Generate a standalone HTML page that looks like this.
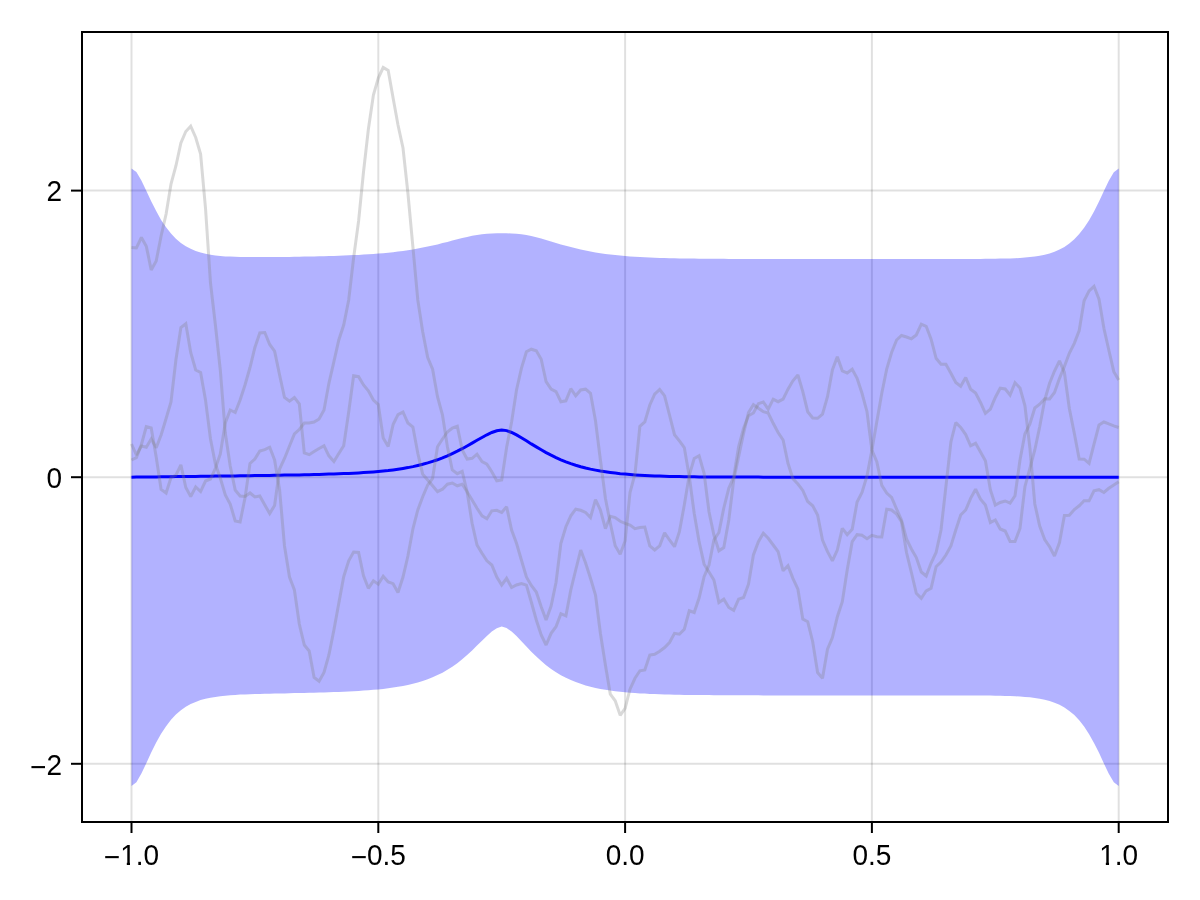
<!DOCTYPE html>
<html lang="en"><head><meta charset="utf-8"><title>Posterior band plot</title>
<style>html,body{margin:0;padding:0;background:#fff;}body{width:1200px;height:900px;overflow:hidden;}svg{display:block;}text{font-family:"Liberation Sans","DejaVu Sans",sans-serif;font-size:28px;fill:#000;}</style></head><body>
<svg width="1200" height="900" viewBox="0 0 1200 900">
<rect x="0" y="0" width="1200" height="900" fill="#ffffff"/>
<g stroke="#000" stroke-opacity="0.12" stroke-width="2" fill="none">
<line x1="131.5" y1="32" x2="131.5" y2="822"/>
<line x1="378.3" y1="32" x2="378.3" y2="822"/>
<line x1="625.1" y1="32" x2="625.1" y2="822"/>
<line x1="871.9" y1="32" x2="871.9" y2="822"/>
<line x1="1118.7" y1="32" x2="1118.7" y2="822"/>
<line x1="82" y1="190.6" x2="1168" y2="190.6"/>
<line x1="82" y1="477.2" x2="1168" y2="477.2"/>
<line x1="82" y1="763.8" x2="1168" y2="763.8"/>
</g>
<polygon points="131.5,168.4 136.4,172.1 141.4,180.5 146.3,190.8 151.2,201.3 156.2,211.1 161.1,219.9 166.1,227.3 171.0,233.6 175.9,238.7 180.9,242.9 185.8,246.2 190.7,248.8 195.7,250.9 200.6,252.5 205.5,253.8 210.5,254.7 215.4,255.4 220.3,256.0 225.3,256.4 230.2,256.6 235.2,256.8 240.1,257.0 245.0,257.1 250.0,257.1 254.9,257.1 259.8,257.1 264.8,257.1 269.7,257.1 274.6,257.0 279.6,257.0 284.5,256.9 289.5,256.9 294.4,256.8 299.3,256.7 304.3,256.6 309.2,256.5 314.1,256.4 319.1,256.3 324.0,256.2 328.9,256.0 333.9,255.9 338.8,255.7 343.7,255.5 348.7,255.3 353.6,255.1 358.6,254.9 363.5,254.6 368.4,254.3 373.4,254.0 378.3,253.6 383.2,253.2 388.2,252.7 393.1,252.2 398.0,251.6 403.0,250.9 407.9,250.2 412.9,249.4 417.8,248.6 422.7,247.6 427.7,246.6 432.6,245.5 437.5,244.4 442.5,243.1 447.4,241.9 452.3,240.6 457.3,239.3 462.2,238.1 467.1,236.9 472.1,235.8 477.0,235.0 482.0,234.3 486.9,233.8 491.8,233.5 496.8,233.3 501.7,233.3 506.6,233.3 511.6,233.5 516.5,233.8 521.4,234.3 526.4,235.1 531.3,236.1 536.3,237.3 541.2,238.6 546.1,240.0 551.1,241.5 556.0,242.9 560.9,244.4 565.9,245.8 570.8,247.1 575.7,248.3 580.7,249.5 585.6,250.5 590.5,251.5 595.5,252.4 600.4,253.2 605.4,253.9 610.3,254.5 615.2,255.1 620.2,255.6 625.1,256.0 630.0,256.4 635.0,256.7 639.9,257.0 644.8,257.3 649.8,257.5 654.7,257.7 659.7,257.9 664.6,258.0 669.5,258.2 674.5,258.3 679.4,258.4 684.3,258.5 689.3,258.5 694.2,258.6 699.1,258.7 704.1,258.7 709.0,258.7 713.9,258.8 718.9,258.8 723.8,258.8 728.8,258.9 733.7,258.9 738.6,258.9 743.6,258.9 748.5,258.9 753.4,258.9 758.4,258.9 763.3,259.0 768.2,259.0 773.2,259.0 778.1,259.0 783.1,259.0 788.0,259.0 792.9,259.0 797.9,259.0 802.8,259.0 807.7,259.0 812.7,259.0 817.6,259.0 822.5,259.0 827.5,259.0 832.4,259.0 837.3,259.0 842.3,259.0 847.2,259.0 852.2,259.0 857.1,259.0 862.0,259.0 867.0,259.0 871.9,259.0 876.8,259.0 881.8,259.0 886.7,259.0 891.6,259.0 896.6,259.0 901.5,259.0 906.5,259.0 911.4,259.0 916.3,259.0 921.3,259.0 926.2,259.0 931.1,259.0 936.1,259.0 941.0,259.0 945.9,259.0 950.9,259.0 955.8,259.0 960.7,259.0 965.7,259.0 970.6,258.9 975.6,258.9 980.5,258.9 985.4,258.8 990.4,258.8 995.3,258.7 1000.2,258.6 1005.2,258.5 1010.1,258.4 1015.0,258.2 1020.0,257.9 1024.9,257.5 1029.9,257.1 1034.8,256.5 1039.7,255.7 1044.7,254.7 1049.6,253.4 1054.5,251.7 1059.5,249.6 1064.4,246.9 1069.3,243.5 1074.3,239.3 1079.2,234.1 1084.1,227.8 1089.1,220.2 1094.0,211.5 1099.0,201.6 1103.9,191.0 1108.8,180.7 1113.8,172.2 1118.7,168.4 1118.7,786.0 1113.8,782.2 1108.8,773.7 1103.9,763.4 1099.0,752.8 1094.0,742.9 1089.1,734.2 1084.1,726.6 1079.2,720.3 1074.3,715.1 1069.3,710.9 1064.4,707.5 1059.5,704.8 1054.5,702.7 1049.6,701.0 1044.7,699.7 1039.7,698.7 1034.8,697.9 1029.9,697.3 1024.9,696.9 1020.0,696.5 1015.0,696.2 1010.1,696.0 1005.2,695.9 1000.2,695.8 995.3,695.7 990.4,695.6 985.4,695.6 980.5,695.5 975.6,695.5 970.6,695.5 965.7,695.4 960.7,695.4 955.8,695.4 950.9,695.4 945.9,695.4 941.0,695.4 936.1,695.4 931.1,695.4 926.2,695.4 921.3,695.4 916.3,695.4 911.4,695.4 906.5,695.4 901.5,695.4 896.6,695.4 891.6,695.4 886.7,695.4 881.8,695.4 876.8,695.4 871.9,695.4 867.0,695.4 862.0,695.4 857.1,695.4 852.2,695.4 847.2,695.4 842.3,695.4 837.3,695.4 832.4,695.4 827.5,695.4 822.5,695.4 817.6,695.4 812.7,695.4 807.7,695.4 802.8,695.4 797.9,695.4 792.9,695.4 788.0,695.4 783.1,695.4 778.1,695.4 773.2,695.4 768.2,695.4 763.3,695.4 758.4,695.3 753.4,695.3 748.5,695.3 743.6,695.3 738.6,695.3 733.7,695.3 728.8,695.3 723.8,695.2 718.9,695.2 713.9,695.2 709.0,695.1 704.1,695.1 699.1,695.1 694.2,695.0 689.3,694.9 684.3,694.9 679.4,694.8 674.5,694.7 669.5,694.6 664.6,694.4 659.7,694.3 654.7,694.1 649.8,693.9 644.8,693.6 639.9,693.4 635.0,693.0 630.0,692.7 625.1,692.2 620.2,691.7 615.2,691.2 610.3,690.5 605.4,689.7 600.4,688.9 595.5,687.9 590.5,686.7 585.6,685.4 580.7,683.8 575.7,682.1 570.8,680.1 565.9,677.8 560.9,675.2 556.0,672.2 551.1,668.9 546.1,665.2 541.2,661.1 536.3,656.5 531.3,651.7 526.4,646.5 521.4,641.2 516.5,636.1 511.6,631.5 506.6,628.0 501.7,626.5 496.8,628.2 491.8,631.5 486.9,635.9 482.0,640.7 477.0,645.6 472.1,650.4 467.1,655.0 462.2,659.3 457.3,663.2 452.3,666.7 447.4,669.8 442.5,672.7 437.5,675.1 432.6,677.3 427.7,679.3 422.7,681.0 417.8,682.5 412.9,683.8 407.9,684.9 403.0,685.9 398.0,686.8 393.1,687.6 388.2,688.3 383.2,688.9 378.3,689.4 373.4,689.8 368.4,690.3 363.5,690.6 358.6,690.9 353.6,691.2 348.7,691.5 343.7,691.7 338.8,691.9 333.9,692.1 328.9,692.3 324.0,692.4 319.1,692.6 314.1,692.7 309.2,692.8 304.3,692.9 299.3,693.0 294.4,693.1 289.5,693.2 284.5,693.4 279.6,693.5 274.6,693.6 269.7,693.7 264.8,693.8 259.8,693.9 254.9,694.0 250.0,694.2 245.0,694.4 240.1,694.6 235.2,694.9 230.2,695.2 225.3,695.7 220.3,696.2 215.4,696.9 210.5,697.7 205.5,698.8 200.6,700.1 195.7,701.9 190.7,704.1 185.8,706.8 180.9,710.3 175.9,714.6 171.0,719.8 166.1,726.2 161.1,733.8 156.2,742.6 151.2,752.6 146.3,763.2 141.4,773.6 136.4,782.2 131.5,786.0" fill="#0000ff" fill-opacity="0.3" stroke="none"/>
<polyline points="131.5,477.2 136.4,477.1 141.4,477.1 146.3,477.0 151.2,477.0 156.2,476.9 161.1,476.8 166.1,476.8 171.0,476.7 175.9,476.6 180.9,476.6 185.8,476.5 190.7,476.5 195.7,476.4 200.6,476.3 205.5,476.3 210.5,476.2 215.4,476.1 220.3,476.1 225.3,476.0 230.2,475.9 235.2,475.9 240.1,475.8 245.0,475.7 250.0,475.7 254.9,475.6 259.8,475.5 264.8,475.5 269.7,475.4 274.6,475.3 279.6,475.2 284.5,475.1 289.5,475.1 294.4,475.0 299.3,474.9 304.3,474.8 309.2,474.7 314.1,474.5 319.1,474.4 324.0,474.3 328.9,474.1 333.9,474.0 338.8,473.8 343.7,473.6 348.7,473.4 353.6,473.2 358.6,472.9 363.5,472.6 368.4,472.3 373.4,471.9 378.3,471.5 383.2,471.0 388.2,470.5 393.1,469.9 398.0,469.2 403.0,468.4 407.9,467.6 412.9,466.6 417.8,465.5 422.7,464.3 427.7,462.9 432.6,461.4 437.5,459.8 442.5,457.9 447.4,455.9 452.3,453.6 457.3,451.2 462.2,448.7 467.1,446.0 472.1,443.1 477.0,440.3 482.0,437.5 486.9,434.8 491.8,432.5 496.8,430.8 501.7,429.9 506.6,430.6 511.6,432.5 516.5,434.9 521.4,437.8 526.4,440.8 531.3,443.9 536.3,446.9 541.2,449.8 546.1,452.6 551.1,455.2 556.0,457.6 560.9,459.8 565.9,461.8 570.8,463.6 575.7,465.2 580.7,466.7 585.6,468.0 590.5,469.1 595.5,470.1 600.4,471.0 605.4,471.8 610.3,472.5 615.2,473.1 620.2,473.7 625.1,474.1 630.0,474.5 635.0,474.9 639.9,475.2 644.8,475.5 649.8,475.7 654.7,475.9 659.7,476.1 664.6,476.2 669.5,476.4 674.5,476.5 679.4,476.6 684.3,476.7 689.3,476.7 694.2,476.8 699.1,476.9 704.1,476.9 709.0,476.9 713.9,477.0 718.9,477.0 723.8,477.0 728.8,477.1 733.7,477.1 738.6,477.1 743.6,477.1 748.5,477.1 753.4,477.1 758.4,477.1 763.3,477.2 768.2,477.2 773.2,477.2 778.1,477.2 783.1,477.2 788.0,477.2 792.9,477.2 797.9,477.2 802.8,477.2 807.7,477.2 812.7,477.2 817.6,477.2 822.5,477.2 827.5,477.2 832.4,477.2 837.3,477.2 842.3,477.2 847.2,477.2 852.2,477.2 857.1,477.2 862.0,477.2 867.0,477.2 871.9,477.2 876.8,477.2 881.8,477.2 886.7,477.2 891.6,477.2 896.6,477.2 901.5,477.2 906.5,477.2 911.4,477.2 916.3,477.2 921.3,477.2 926.2,477.2 931.1,477.2 936.1,477.2 941.0,477.2 945.9,477.2 950.9,477.2 955.8,477.2 960.7,477.2 965.7,477.2 970.6,477.2 975.6,477.2 980.5,477.2 985.4,477.2 990.4,477.2 995.3,477.2 1000.2,477.2 1005.2,477.2 1010.1,477.2 1015.0,477.2 1020.0,477.2 1024.9,477.2 1029.9,477.2 1034.8,477.2 1039.7,477.2 1044.7,477.2 1049.6,477.2 1054.5,477.2 1059.5,477.2 1064.4,477.2 1069.3,477.2 1074.3,477.2 1079.2,477.2 1084.1,477.2 1089.1,477.2 1094.0,477.2 1099.0,477.2 1103.9,477.2 1108.8,477.2 1113.8,477.2 1118.7,477.2" fill="none" stroke="#0000ff" stroke-width="3" stroke-linejoin="miter" stroke-miterlimit="2"/>
<g fill="none" stroke="#808080" stroke-opacity="0.3" stroke-width="3" stroke-linejoin="miter" stroke-miterlimit="2" stroke-linecap="butt">
<polyline points="131.5,247.5 136.4,248.0 141.4,237.5 146.3,246.2 151.2,270.0 156.2,261.0 161.1,236.0 166.1,214.0 171.0,184.0 175.9,166.0 180.9,143.0 185.8,131.5 190.7,126.2 195.7,137.5 200.6,154.0 205.5,208.0 210.5,283.0 215.4,325.0 220.3,370.0 225.3,433.0 230.2,466.0 235.2,490.0 240.1,496.0 245.0,496.5 250.0,493.0 254.9,497.0 259.8,496.0 264.8,505.0 269.7,513.5 274.6,505.5 279.6,469.0 284.5,458.5 289.5,446.0 294.4,434.0 299.3,429.5 304.3,423.0 309.2,423.0 314.1,422.0 319.1,419.0 324.0,410.0 328.9,383.3 333.9,361.7 338.8,340.0 343.7,325.0 348.7,300.0 353.6,258.0 358.6,221.0 363.5,172.0 368.4,129.0 373.4,95.0 378.3,78.0 383.2,67.5 388.2,70.5 393.1,98.0 398.0,125.0 403.0,148.0 407.9,193.0 412.9,247.0 417.8,300.0 422.7,331.7 427.7,357.5 432.6,369.2 437.5,396.7 442.5,415.0 447.4,446.7 452.3,470.0 457.3,473.7 462.2,471.3 467.1,491.7 472.1,523.3 477.0,545.0 482.0,553.3 486.9,560.8 491.8,565.0 496.8,577.0 501.7,585.0 506.6,578.3 511.6,587.5 516.5,585.0 521.4,583.5 526.4,585.2 531.3,602.0 536.3,620.0 541.2,635.0 546.1,645.0 551.1,633.3 556.0,626.7 560.9,613.7 565.9,615.8 570.8,590.0 575.7,570.0 580.7,550.0 585.6,563.0 590.5,578.3 595.5,595.0 600.4,633.3 605.4,665.0 610.3,694.2 615.2,700.8 620.2,715.3 625.1,708.3 630.0,689.2 635.0,678.3 639.9,670.8 644.8,670.0 649.8,655.0 654.7,654.2 659.7,651.2 664.6,647.5 669.5,642.5 674.5,633.3 679.4,634.2 684.3,629.2 689.3,610.8 694.2,612.5 699.1,598.0 704.1,576.7 709.0,565.0 713.9,540.0 718.9,532.5 723.8,508.0 728.8,488.3 733.7,477.0 738.6,446.7 743.6,428.3 748.5,415.8 753.4,413.0 758.4,403.7 763.3,402.0 768.2,409.2 773.2,399.2 778.1,401.7 783.1,399.2 788.0,389.2 792.9,380.8 797.9,375.0 802.8,391.7 807.7,411.7 812.7,418.0 817.6,418.3 822.5,414.2 827.5,396.7 832.4,370.0 837.3,356.7 842.3,370.8 847.2,373.0 852.2,369.2 857.1,378.3 862.0,393.3 867.0,411.7 871.9,450.0 876.8,461.7 881.8,485.4 886.7,493.0 891.6,497.5 896.6,509.2 901.5,520.0 906.5,539.0 911.4,549.0 916.3,557.5 921.3,572.0 926.2,576.0 931.1,563.0 936.1,552.5 941.0,530.0 945.9,486.7 950.9,442.0 955.8,422.5 960.7,427.5 965.7,434.6 970.6,445.8 975.6,443.3 980.5,452.0 985.4,460.8 990.4,490.0 995.3,505.0 1000.2,502.5 1005.2,501.0 1010.1,503.2 1015.0,495.8 1020.0,460.0 1024.9,434.0 1029.9,424.0 1034.8,408.0 1039.7,404.2 1044.7,398.8 1049.6,399.0 1054.5,392.5 1059.5,378.3 1064.4,366.5 1069.3,353.3 1074.3,343.3 1079.2,330.5 1084.1,300.8 1089.1,290.8 1094.0,286.3 1099.0,299.2 1103.9,328.3 1108.8,350.0 1113.8,371.7 1118.7,380.0"/>
<polyline points="131.5,444.0 136.4,455.0 141.4,446.0 146.3,447.3 151.2,439.0 156.2,447.8 161.1,435.0 166.1,418.5 171.0,402.0 175.9,360.0 180.9,327.5 185.8,323.8 190.7,352.5 195.7,370.0 200.6,372.5 205.5,400.0 210.5,439.0 215.4,464.0 220.3,478.0 225.3,495.0 230.2,504.0 235.2,521.0 240.1,522.0 245.0,498.0 250.0,463.5 254.9,459.0 259.8,451.0 264.8,449.6 269.7,447.2 274.6,460.0 279.6,490.0 284.5,546.0 289.5,577.0 294.4,590.0 299.3,624.0 304.3,645.0 309.2,651.0 314.1,677.5 319.1,681.3 324.0,672.5 328.9,655.0 333.9,630.0 338.8,603.3 343.7,576.7 348.7,560.8 353.6,552.0 358.6,552.5 363.5,575.8 368.4,588.3 373.4,580.8 378.3,584.2 383.2,576.3 388.2,582.0 393.1,583.7 398.0,592.5 403.0,577.0 407.9,556.0 412.9,529.0 417.8,510.0 422.7,496.7 427.7,485.0 432.6,478.3 437.5,446.7 442.5,439.0 447.4,432.0 452.3,428.0 457.3,426.2 462.2,450.0 467.1,459.0 472.1,458.3 477.0,454.2 482.0,461.7 486.9,464.2 491.8,471.7 496.8,480.8 501.7,480.0 506.6,447.5 511.6,422.0 516.5,390.0 521.4,368.3 526.4,351.7 531.3,349.2 536.3,350.8 541.2,359.2 546.1,381.7 551.1,389.2 556.0,391.7 560.9,401.7 565.9,400.8 570.8,388.7 575.7,395.8 580.7,390.0 585.6,389.2 590.5,393.3 595.5,420.8 600.4,460.0 605.4,498.3 610.3,523.3 615.2,545.8 620.2,554.2 625.1,541.0 630.0,492.5 635.0,474.0 639.9,426.3 644.8,422.0 649.8,405.0 654.7,394.2 659.7,389.5 664.6,395.8 669.5,415.0 674.5,434.7 679.4,440.8 684.3,447.5 689.3,476.7 694.2,513.3 699.1,541.7 704.1,564.2 709.0,572.0 713.9,580.0 718.9,602.5 723.8,599.2 728.8,607.5 733.7,610.3 738.6,599.2 743.6,597.5 748.5,584.2 753.4,555.0 758.4,541.7 763.3,533.3 768.2,538.3 773.2,545.0 778.1,551.7 783.1,570.8 788.0,565.8 792.9,578.3 797.9,589.2 802.8,619.0 807.7,621.7 812.7,641.7 817.6,672.5 822.5,678.3 827.5,649.2 832.4,637.5 837.3,617.0 842.3,601.7 847.2,570.0 852.2,541.7 857.1,534.7 862.0,535.3 867.0,538.7 871.9,535.3 876.8,536.7 881.8,537.0 886.7,509.2 891.6,510.0 896.6,514.2 901.5,521.7 906.5,552.5 911.4,572.5 916.3,593.3 921.3,598.3 926.2,590.8 931.1,588.3 936.1,566.7 941.0,562.0 945.9,555.0 950.9,546.0 955.8,530.0 960.7,515.0 965.7,510.0 970.6,498.3 975.6,489.2 980.5,499.2 985.4,505.0 990.4,522.5 995.3,520.0 1000.2,529.0 1005.2,531.0 1010.1,541.5 1015.0,541.5 1020.0,528.3 1024.9,486.7 1029.9,468.3 1034.8,450.0 1039.7,426.7 1044.7,400.0 1049.6,383.3 1054.5,371.0 1059.5,360.8 1064.4,372.5 1069.3,408.3 1074.3,433.3 1079.2,459.0 1084.1,459.2 1089.1,463.3 1094.0,444.2 1099.0,425.0 1103.9,422.0 1108.8,423.8 1113.8,425.8 1118.7,427.5"/>
<polyline points="131.5,460.0 136.4,457.7 141.4,444.5 146.3,426.7 151.2,428.0 156.2,457.0 161.1,489.5 166.1,493.0 171.0,477.5 175.9,475.2 180.9,464.8 185.8,487.5 190.7,496.5 195.7,487.0 200.6,491.6 205.5,481.0 210.5,479.0 215.4,468.3 220.3,454.0 225.3,423.0 230.2,410.0 235.2,412.5 240.1,400.0 245.0,385.0 250.0,367.5 254.9,347.5 259.8,333.0 264.8,332.5 269.7,344.5 274.6,351.2 279.6,375.0 284.5,397.5 289.5,401.2 294.4,397.5 299.3,403.8 304.3,453.0 309.2,454.7 314.1,451.5 319.1,448.5 324.0,445.8 328.9,455.8 333.9,461.5 338.8,453.5 343.7,445.8 348.7,412.0 353.6,375.8 358.6,376.7 363.5,385.0 368.4,390.8 373.4,400.0 378.3,404.6 383.2,438.0 388.2,446.5 393.1,424.6 398.0,414.6 403.0,412.0 407.9,423.0 412.9,427.0 417.8,453.3 422.7,474.2 427.7,480.0 432.6,485.8 437.5,491.7 442.5,489.2 447.4,484.2 452.3,483.0 457.3,485.8 462.2,484.2 467.1,491.7 472.1,500.0 477.0,508.3 482.0,515.8 486.9,518.7 491.8,510.8 496.8,510.3 501.7,512.5 506.6,506.7 511.6,530.0 516.5,543.3 521.4,560.0 526.4,577.0 531.3,585.4 536.3,592.0 541.2,606.7 546.1,620.0 551.1,606.0 556.0,582.5 560.9,543.3 565.9,526.7 570.8,515.8 575.7,509.2 580.7,510.3 585.6,512.5 590.5,517.5 595.5,499.7 600.4,510.0 605.4,528.7 610.3,516.2 615.2,517.5 620.2,521.3 625.1,523.3 630.0,525.0 635.0,528.7 639.9,527.5 644.8,527.0 649.8,545.8 654.7,550.0 659.7,545.8 664.6,532.8 669.5,540.0 674.5,546.7 679.4,531.7 684.3,505.0 689.3,475.0 694.2,458.5 699.1,455.8 704.1,473.3 709.0,511.7 713.9,535.0 718.9,550.8 723.8,547.5 728.8,520.0 733.7,480.0 738.6,456.7 743.6,433.3 748.5,412.5 753.4,404.7 758.4,408.3 763.3,411.7 768.2,413.0 773.2,423.3 778.1,432.5 783.1,440.0 788.0,463.3 792.9,478.7 797.9,484.0 802.8,490.4 807.7,501.5 812.7,505.8 817.6,515.0 822.5,540.0 827.5,551.7 832.4,560.8 837.3,550.0 842.3,528.3 847.2,534.7 852.2,529.2 857.1,502.0 862.0,492.5 867.0,476.0 871.9,450.0 876.8,421.7 881.8,393.3 886.7,369.0 891.6,352.5 896.6,340.0 901.5,335.5 906.5,337.0 911.4,338.8 916.3,335.0 921.3,324.2 926.2,326.3 931.1,339.2 936.1,358.3 941.0,364.2 945.9,364.2 950.9,373.3 955.8,382.5 960.7,386.3 965.7,377.5 970.6,389.2 975.6,393.0 980.5,402.5 985.4,413.3 990.4,409.2 995.3,397.5 1000.2,388.2 1005.2,389.0 1010.1,395.0 1015.0,382.8 1020.0,388.0 1024.9,405.5 1029.9,448.0 1034.8,504.0 1039.7,526.0 1044.7,539.5 1049.6,546.7 1054.5,556.0 1059.5,542.5 1064.4,515.5 1069.3,515.2 1074.3,509.6 1079.2,505.8 1084.1,500.8 1089.1,500.8 1094.0,490.8 1099.0,489.7 1103.9,492.5 1108.8,488.3 1113.8,485.0 1118.7,481.7"/>
</g>
<rect x="82" y="32" width="1086" height="790" fill="none" stroke="#000" stroke-width="2"/>
<g stroke="#000" stroke-width="2">
<line x1="131.5" y1="822" x2="131.5" y2="833"/>
<line x1="378.3" y1="822" x2="378.3" y2="833"/>
<line x1="625.1" y1="822" x2="625.1" y2="833"/>
<line x1="871.9" y1="822" x2="871.9" y2="833"/>
<line x1="1118.7" y1="822" x2="1118.7" y2="833"/>
<line x1="71" y1="190.6" x2="82" y2="190.6"/>
<line x1="71" y1="477.2" x2="82" y2="477.2"/>
<line x1="71" y1="763.8" x2="82" y2="763.8"/>
</g>
<g>
<text clip-path="url(#k0)" transform="translate(103.86 865) scale(1 1.06)"><tspan dy="2.0">−</tspan><tspan dy="-2.0">1.0</tspan></text>
<text transform="translate(350.66 865) scale(1 1.06)"><tspan dy="2.0">−</tspan><tspan dy="-2.0">0.5</tspan></text>
<text transform="translate(605.64 865) scale(1 1.06)">0.0</text>
<text transform="translate(852.44 865) scale(1 1.06)">0.5</text>
<text clip-path="url(#k1)" transform="translate(1099.24 865) scale(1 1.06)">1.0</text>
</g><g text-anchor="end">
<text transform="translate(62 201.4) scale(1 1.06)">2</text>
<text transform="translate(62 488.0) scale(1 1.06)">0</text>
<text transform="translate(62 774.6) scale(1 1.06)"><tspan dy="2.0">−</tspan><tspan dy="-2.0">2</tspan></text>
</g>
<defs><clipPath id="k0"><rect x="-5" y="-40" width="90" height="37.00"/><rect x="-5" y="-3.01" width="22.95" height="8"/><rect x="22.95" y="-3.01" width="3.2" height="8"/><rect x="31.55" y="-3.01" width="60" height="8"/></clipPath><clipPath id="k1"><rect x="-5" y="-40" width="90" height="37.00"/><rect x="-5" y="-3.01" width="6.60" height="8"/><rect x="6.60" y="-3.01" width="3.2" height="8"/><rect x="15.20" y="-3.01" width="60" height="8"/></clipPath></defs>
</svg></body></html>
